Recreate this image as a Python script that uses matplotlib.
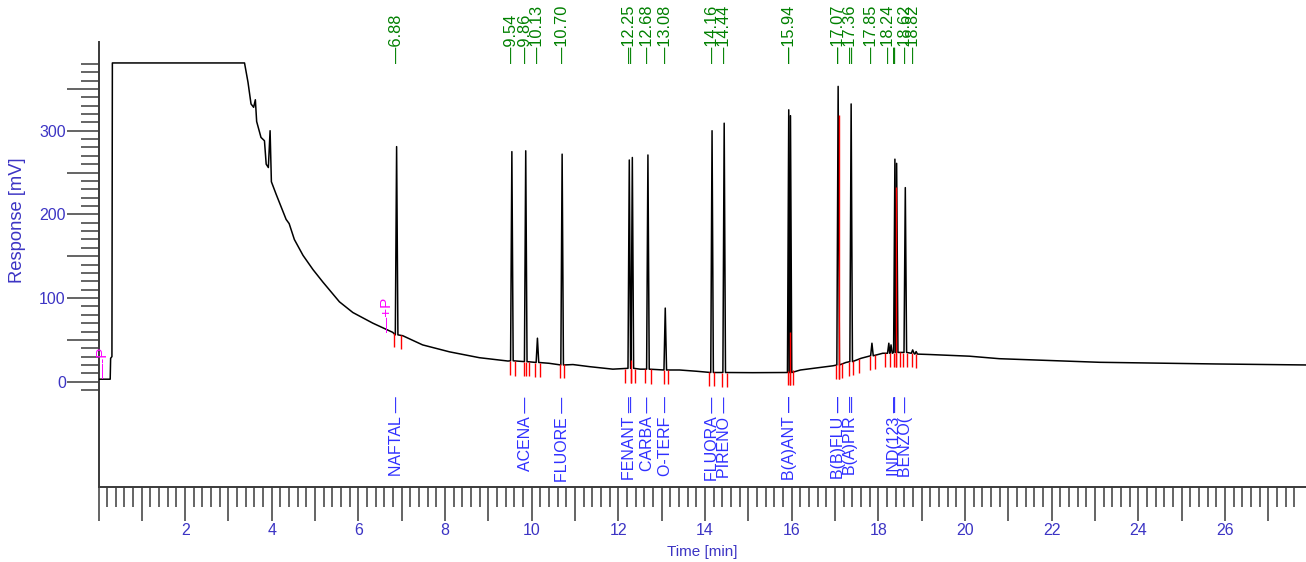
import numpy as np
import matplotlib
matplotlib.use("Agg")
import matplotlib.pyplot as plt
from matplotlib.ticker import FixedLocator, FuncFormatter

plt.rcParams['font.family'] = ['Liberation Sans', 'DejaVu Sans']

# ---------------- data ----------------
# background / baseline of the chromatogram  (time [min], response [mV])
base_t = [0.00, 0.27, 0.28, 0.31, 0.32, 3.37, 3.45, 3.52, 3.58, 3.62, 3.65, 3.75,
          3.83, 3.87, 3.92, 3.96, 3.99, 4.10, 4.33, 4.40, 4.52, 4.72, 4.95, 5.18,
          5.56, 5.87, 6.33, 6.79, 7.02, 7.48, 8.10, 8.79, 9.45, 10.40, 10.95,
          11.33, 11.87, 12.50, 13.41, 13.80, 14.30, 15.10, 16.20, 16.95, 17.25,
          17.60, 18.10, 18.50, 19.18, 20.10, 20.79, 23.10, 25.79, 27.88]
base_v = [3, 3, 28, 30, 381, 381, 358, 332, 328, 337, 311, 292,
          288, 260, 256, 300, 239, 224, 194, 189, 170, 151, 134, 119,
          95.5, 82.7, 70, 59, 55, 44, 35.7, 28.7, 24.7, 22, 20.5,
          18, 15, 15, 14, 12.5, 11, 10.8, 14, 19, 23,
          28, 34, 35, 32.5, 30.5, 27.5, 23.2, 21.2, 20]

# peaks: retention time, apex response, baseline under the peak
peak_rt = [6.88, 9.54, 9.86, 10.13, 10.70, 12.25, 12.32, 12.68, 13.08, 14.16, 14.44,
           15.93, 15.97, 17.07, 17.37, 17.85, 18.24, 18.29, 18.38, 18.42, 18.62,
           18.79, 18.87]
peak_apex = [281, 275, 276, 52, 272, 265, 268, 271, 88, 300, 309,
             325, 318, 353, 332, 46, 46, 44, 266, 261, 232,
             38, 36]
peak_foot = [56, 25, 24, 23, 20, 16, 16, 15, 14, 11, 11,
             11, 11, 20, 24, 31, 34, 34, 35, 35, 35,
             34, 33]

# retention-time annotations (green) above the trace
rt_text = ['6.88', '9.54', '9.86', '10.13', '10.70', '12.25', '12.68', '13.08',
           '14.16', '14.44', '15.94', '17.07', '17.36', '17.85', '18.24',
           '18.62', '18.82']
rt_pos = [6.88, 9.54, 9.86, 10.13, 10.70, 12.25, 12.68, 13.08,
          14.16, 14.44, 15.94, 17.07, 17.36, 17.85, 18.24, 18.62, 18.82]
rt_extra = [12.32, 15.97, 17.10, 17.41, 18.38, 18.42]

# compound names (blue) below the trace
cmp_names = ['NAFTAL', 'ACENA', 'FLUORE', 'FENANT', 'CARBA', 'O-TERF', 'FLUORA',
             'PIRENO', 'B(A)ANT', 'B(B)FLU', 'B(A)PIR', 'IND(123', 'BENZO(']
cmp_rt = [6.88, 9.86, 10.70, 12.25, 12.68, 13.08, 14.16, 14.44, 15.94, 17.07,
          17.36, 18.38, 18.62]
cmp_extra = [12.32, 15.97, 17.10, 17.41, 18.42]

# integration marks (red)
mark_t = [6.81, 6.97, 9.49, 9.62, 9.82, 9.87, 9.93, 10.08, 10.20, 10.65, 10.75,
          12.16, 12.29, 12.39, 12.62, 12.74, 13.05, 13.15, 14.10, 14.20, 14.39,
          14.51, 15.91, 15.96, 16.02, 17.03, 17.08, 17.17, 17.33, 17.41, 17.54,
          17.81, 17.91, 18.16, 18.26, 18.35, 18.41, 18.50, 18.56, 18.65, 18.77,
          18.87]
drop_t = [12.29, 15.96, 17.08, 18.41]
drop_top = [26, 60, 319, 233]

# integration events (magenta)
event_text = ['\u2014-P', '\u2014+P']
event_t = [0.10, 6.66]
event_v = [5, 59]

# x / y tick labels
x_major = list(range(0, 28))
x_labels = {2: '2', 4: '4', 6: '6', 8: '8', 10: '10', 12: '12', 14: '14',
            16: '16', 18: '18', 20: '20', 22: '22', 24: '24', 26: '26'}
y_major = [0, 50, 100, 150, 200, 250, 300, 350]
y_labels = {0: '0', 100: '100', 200: '200', 300: '300'}

# ---------------- styles ----------------
W, H = 1306, 562
HALF_W = 0.03
MARK_LEN = 17
TICKLBL = '#3c34c4'
BLUE = '#2f2fff'
GREEN = '#008000'
MAGENTA = '#ff00ff'
AXCOL = '#3a3a3a'

fig = plt.figure(figsize=(W / 100, H / 100), dpi=100)
left_px, right_px, top_px, bot_px = 98.5, 1306, 41.7, 486.7
ax = fig.add_axes([left_px / W, 1 - bot_px / H, (right_px - left_px) / W,
                   (bot_px - top_px) / H])
ax.set_xlim(0, (right_px - left_px) / 43.33)
ax.set_ylim(-125.5, 406.4)

# trace
tt = list(base_t)
vv = list(base_v)
for rt, ap, ft in zip(peak_rt, peak_apex, peak_foot):
    tt += [rt - HALF_W, rt, rt + HALF_W]
    vv += [ft, ap, ft]
order = np.argsort(np.array(tt), kind='stable')
tt = np.array(tt)[order]
vv = np.array(vv)[order]
ax.plot(tt, vv, color='black', lw=1.1, zorder=3)

# red integration marks
mb = np.interp(mark_t, base_t, base_v)
ax.vlines(mark_t, mb - MARK_LEN, mb, color='red', lw=1.0, zorder=4)
db = np.interp(drop_t, base_t, base_v)
ax.vlines(drop_t, db - MARK_LEN, drop_top, color='red', lw=1.0, zorder=4)

# green retention times
y_green = 380.5
for txt, t in zip(rt_text, rt_pos):
    ax.text(t, y_green, '\u2014' + txt, rotation=90, ha='center', va='bottom',
            color=GREEN, fontsize=11.8, clip_on=False, zorder=5)
for t in rt_extra:
    ax.text(t, y_green, '\u2014', rotation=90, ha='center', va='bottom',
            color=GREEN, fontsize=11.8, clip_on=False, zorder=5)

# blue compound names
y_blue = -17.5
for name, t in zip(cmp_names, cmp_rt):
    ax.text(t, y_blue, name + ' \u2014', rotation=90, ha='center', va='top',
            color=BLUE, fontsize=11.5, zorder=5)
for t in cmp_extra:
    ax.text(t, y_blue, '\u2014', rotation=90, ha='center', va='top',
            color=BLUE, fontsize=11.5, zorder=5)

# magenta events
for txt, t, v in zip(event_text, event_t, event_v):
    ax.text(t, v, txt, rotation=90, ha='center', va='bottom', color=MAGENTA,
            fontsize=11, zorder=5)

# spines
for s in ['top', 'right']:
    ax.spines[s].set_visible(False)
for s in ['left', 'bottom']:
    ax.spines[s].set_color(AXCOL)
    ax.spines[s].set_linewidth(1.4)

# x ticks
ax.xaxis.set_major_locator(FixedLocator(x_major))
ax.xaxis.set_minor_locator(FixedLocator([i / 5 for i in range(0, 139) if i % 5]))
ax.xaxis.set_major_formatter(FuncFormatter(lambda v, p: x_labels.get(int(round(v)), '')))
ax.tick_params(axis='x', which='major', direction='out', length=24.5, width=1.1,
               color=AXCOL, labelcolor=TICKLBL, labelsize=11.5, pad=1.5)
ax.tick_params(axis='x', which='minor', direction='out', length=14.4, width=1.1,
               color=AXCOL)

# y ticks
ax.yaxis.set_major_locator(FixedLocator(y_major))
ax.yaxis.set_minor_locator(FixedLocator([v for v in range(-10, 390, 10) if v % 50]))
ax.yaxis.set_major_formatter(FuncFormatter(lambda v, p: y_labels.get(int(round(v)), '')))
ax.tick_params(axis='y', which='major', direction='out', length=23, width=1.1,
               color=AXCOL, labelcolor=TICKLBL, labelsize=11.5, pad=0.5)
ax.tick_params(axis='y', which='minor', direction='out', length=13, width=1.1,
               color=AXCOL)

# axis titles
fig.text(702 / W, 1 - 551.7 / H, 'Time [min]', ha='center', va='center',
         color=TICKLBL, fontsize=11)
fig.text(18 / W, 1 - 220 / H, 'Response [mV]', ha='center', va='center',
         rotation=90, color=TICKLBL, fontsize=13.2)

fig.savefig('out.png', dpi=100)
